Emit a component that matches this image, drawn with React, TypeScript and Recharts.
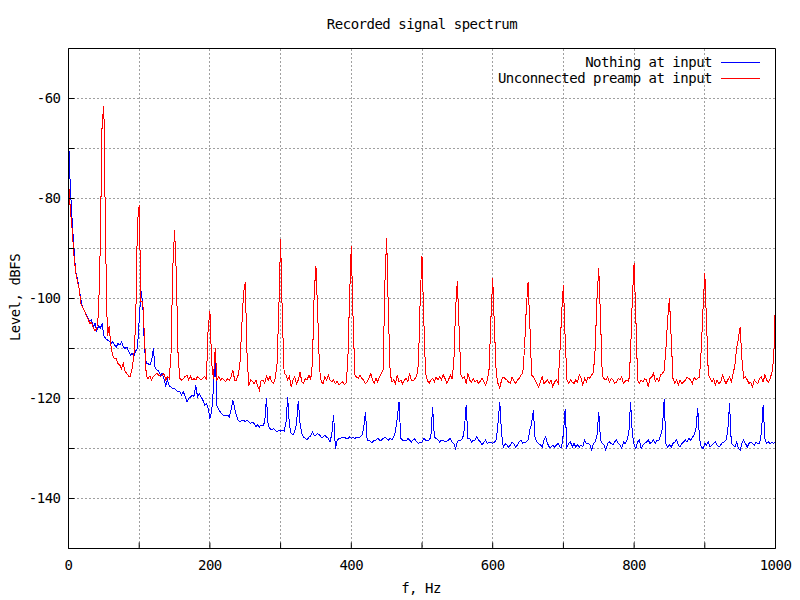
import { LineChart, Line, XAxis, YAxis, CartesianGrid } from "recharts"

// spectrum bins, 2.5 Hz apart, 0..1000 Hz
const BIN_HZ = 2.5

const freqTicks = [0, 100, 200, 300, 400, 500, 600, 700, 800, 900, 1000]
const freqLabels = [0, 200, 400, 600, 800, 1000]
const levelTicks = [-150, -140, -130, -120, -110, -100, -90, -80, -70, -60, -50]
const levelLabels = [-140, -120, -100, -80, -60]

const seriesNames = ["Nothing at input", "Unconnected preamp at input"]

// "Nothing at input", one row per 50 Hz
const nothingLevel = [
  -67.5, -77.5, -84, -89.5, -94.5, -96, -98, -100.3, -101.8, -102.5, -103.2, -104, -104.6, -104.2, -105.7, -105, -106.5, -105.5, -106, -105,
  -107.5, -108, -108.3, -108.5, -109, -108.7, -109.3, -109.7, -109, -109.3, -108.7, -109.7, -110, -109.7, -110.5, -111.3, -111, -111.5, -110.5, -110,
  -104.3, -98.5, -101, -110, -113, -113, -113.3, -112.5, -110, -114, -114.3, -114.5, -115.3, -115, -116, -117.5, -116.3, -117.5, -117.7, -118,
  -118, -118.3, -118.7, -118.6, -119.3, -118.7, -119.6, -120.7, -120, -119.7, -119.3, -119.6, -117.3, -119.7, -119, -119.7, -120.3, -121.3, -121, -122,
  -124, -122.7, -118, -111, -121.5, -122.3, -122.7, -123.2, -123.5, -123.3, -123.3, -123.7, -122.3, -120.3, -122, -123.5, -124.3, -124.7, -124.3, -124.3,
  -124.7, -124.3, -124.7, -125, -124.7, -125, -125.7, -125.3, -125.7, -125.3, -125.5, -124.7, -120, -125.5, -126, -126.3, -126, -126.3, -126.7, -126.3,
  -126.5, -126.3, -126.5, -125, -119.7, -125.5, -127, -127.3, -126.5, -125, -120.5, -125, -127, -127.7, -128, -128.3, -127.7, -127.5, -126.7, -127.3,
  -127.3, -127, -127.3, -127.7, -127.7, -127.3, -127.7, -128, -128.7, -127, -123.3, -130, -128.3, -128, -128, -127.7, -127.7, -128, -128, -127.7,
  -128, -127.7, -128, -127.7, -127.7, -127.7, -127.3, -126, -122.7, -128.5, -128.3, -128.7, -128.7, -128.3, -128.3, -128, -128.3, -128.3, -128, -127.7,
  -128, -128.3, -128, -128.3, -127.7, -126.5, -124, -120.7, -128, -128.3, -128.3, -128.5, -128, -128.3, -128.7, -128.3, -128, -128.7, -129, -128.7,
  -128.7, -128, -128.3, -128.5, -128.3, -127.7, -121.7, -127.7, -128, -128.3, -128.7, -128.3, -128.3, -128.7, -128.5, -128.3, -128, -128.7, -129, -130,
  -128.7, -128.3, -128.3, -128, -126, -121.3, -128, -128, -128.7, -128.3, -128.3, -127.7, -128.3, -128.7, -129.3, -128.7, -128.3, -129, -128.7, -128.7,
  -129, -128.7, -128.3, -125, -120.7, -127, -129.7, -129, -129.3, -129.7, -129.3, -128.7, -129, -129.7, -129.3, -128.7, -128.3, -129, -128.7, -128.7,
  -128.3, -126.3, -125, -122.3, -128, -128.7, -129, -129.3, -129.7, -128.3, -127.7, -129, -129.7, -129.7, -129.3, -129.7, -129.3, -129, -129.7, -129.7,
  -127, -122.2, -129.7, -129, -128.7, -129.7, -129, -129.7, -129.3, -129.7, -129.3, -129.7, -128.3, -129, -129, -129.3, -130.3, -129, -128.7, -127.5,
  -122.7, -128.3, -129, -129.3, -130.3, -129, -128.7, -129, -129.3, -128.7, -128.3, -129, -129.3, -130, -128.7, -129, -128.3, -127, -120.7, -127,
  -129.3, -130, -128.7, -128.3, -130, -129.3, -129, -128.7, -128.3, -129, -128.7, -128.3, -129, -128.3, -128.3, -127.5, -126, -120.2, -129, -129.7,
  -129.3, -129.7, -129, -128.7, -128.3, -129.3, -129.7, -129, -128.7, -128.3, -128.7, -128, -128.3, -127.7, -127.3, -126, -122, -128, -129.7, -130,
  -129, -129.3, -128.7, -129.7, -129.3, -129, -128.7, -129.3, -129.7, -129.3, -128.7, -128.7, -128.3, -126.5, -121, -129, -129.3, -129.7, -128.7, -130,
  -130.3, -129, -128.3, -129, -129.7, -129, -128.7, -129, -129.3, -128.7, -129, -129, -127, -121.3, -128, -129, -128.7, -129, -128.7, -129,
  -128.5,
]

// "Unconnected preamp at input", one row per 50 Hz
const preampLevel = [
  -76.5, -82, -86, -91, -94.5, -96.5, -98, -101, -101.8, -102.5, -103.3, -104, -105, -104.8, -105.8, -106.5, -106, -103, -89, -65,
  -61.5, -89, -107.5, -105.5, -109.5, -111.3, -112, -112, -113, -113.3, -114, -113, -114.5, -115, -115.5, -115.5, -114, -111.3, -105, -85,
  -81.3, -100.5, -100.5, -108, -115.5, -116, -115.5, -116.3, -115.6, -115.3, -115, -115.3, -115.6, -115.3, -115, -116.3, -115.6, -116, -111, -94,
  -86.3, -95, -111.5, -116, -116.3, -116, -115.6, -115.3, -116.3, -115.6, -116.3, -116, -116.3, -115.6, -116, -116.3, -116, -115.6, -116.3, -106,
  -102.5, -113, -116, -110, -116.3, -115.6, -116.3, -116, -116.3, -116.6, -116, -116.3, -115.6, -114.3, -116.3, -116.3, -115.3, -113, -106, -99,
  -96.7, -111, -117.5, -116.3, -116.6, -117, -116.3, -117.5, -118.3, -116.3, -116.3, -117, -115.6, -116.3, -115.6, -116.7, -117, -116, -113, -102,
  -88.1, -104, -115, -115.3, -116.3, -115.6, -117.7, -116.3, -115.6, -117, -116.3, -114.7, -116.7, -117, -116, -116.3, -115.3, -116.3, -113, -99,
  -93.5, -103, -114, -116.7, -117, -115.7, -116.3, -115.3, -116.3, -116.7, -116.3, -117, -116.6, -117.3, -117, -116.6, -117.2, -117, -113, -100,
  -89.5, -104, -115.3, -115.7, -116, -115.3, -116, -116.3, -117, -116.7, -116, -115, -116.3, -117, -116, -116.7, -115.6, -115, -114.3, -97,
  -88, -103, -115, -116.7, -116.3, -117, -115.3, -116.7, -116.3, -117, -116.3, -116, -116.7, -115, -116.3, -116.5, -116, -115.6, -113, -100,
  -91.5, -104, -115, -116.3, -117, -116.3, -116, -116.7, -115.7, -116.3, -115.7, -116.3, -115.3, -116, -117, -116.3, -115.3, -116, -113, -102,
  -96.5, -106, -115.3, -116, -115.7, -117, -115, -116.3, -116.7, -116, -116.7, -116.3, -117, -116.5, -116, -116.7, -117.3, -116.3, -114, -104,
  -96, -106, -115, -117, -118, -116.3, -115.7, -116, -116.3, -116.7, -117, -115.7, -116.5, -117, -116.3, -116, -115.3, -115, -110, -102,
  -96.7, -105, -115.3, -115.7, -116.3, -117, -117.7, -116.7, -115.7, -117, -116.7, -116.3, -117, -116.3, -117.7, -116.7, -116.3, -117, -111, -103,
  -97.3, -108, -116.3, -117, -116.3, -116.7, -117, -116.3, -116.7, -115.3, -116, -117.3, -116, -116.7, -115.7, -116, -115.3, -114.7, -110, -100,
  -94, -104, -115.5, -116, -116.3, -115.7, -116.7, -116, -116.3, -117, -116.7, -116, -116.3, -115.7, -117, -116.5, -116.3, -116.7, -111, -100,
  -93, -104, -116.3, -117, -116.3, -116.7, -116, -116.3, -117.7, -116, -115.7, -115, -116.5, -116, -116.7, -115.3, -115, -114.5, -110, -104,
  -100, -108, -116, -117, -116.3, -117.3, -116.3, -117, -116.7, -116.3, -115.7, -116, -116.3, -117, -115.7, -116.3, -116, -115.7, -110, -102,
  -95, -105, -115.3, -116, -116.7, -116, -117.3, -116.3, -117, -116.7, -115.3, -116.3, -117, -116.3, -115.7, -116.7, -115, -113.5, -110, -108,
  -105.7, -112, -116, -115.7, -116.3, -117, -116.7, -117.7, -116.3, -116.7, -117, -116, -115.7, -116.7, -115.3, -116.3, -116.7, -116, -114.7, -112,
  -100,
]

const data = preampLevel.map((v, i) => ({ f: i * BIN_HZ, nothing: nothingLevel[i], preamp: v }))

const FONT = "'DejaVu Sans Mono', monospace"
const textStyle = { fontFamily: FONT, fontSize: 14, letterSpacing: -0.5, fill: "#000" }

function FreqTick({ x, y, payload }: any) {
  if (!freqLabels.includes(payload.value)) return <g />
  return <text x={x} y={y} textAnchor="middle" {...textStyle}>{payload.value}</text>
}

function LevelTick({ x, y, payload }: any) {
  if (!levelLabels.includes(payload.value)) return <g />
  return <text x={x} y={y + 4.7} textAnchor="end" {...textStyle}>{payload.value}</text>
}

export default function App() {
  return (
    <div style={{ position: "absolute", left: 0, top: 0, width: 800, height: 600, background: "#fff" }}>
      <LineChart width={800} height={600} data={data} margin={{ top: 47.5, right: 23.5, bottom: 50.5, left: 67.5 }}>
        <CartesianGrid stroke="#a0a0a0" strokeDasharray="2 2" shapeRendering="crispEdges" />
        <XAxis dataKey="f" type="number" domain={[0, 1000]} ticks={freqTicks} interval={0} allowDataOverflow
          height={1} tickSize={-6} tickMargin={27} tick={FreqTick}
          axisLine={{ stroke: "#000" }} tickLine={{ stroke: "#000" }} />
        <XAxis xAxisId="top" orientation="top" dataKey="f" type="number" domain={[0, 1000]} ticks={freqTicks} interval={0} allowDataOverflow
          height={1} tickSize={-6} tick={false}
          axisLine={{ stroke: "#000" }} tickLine={{ stroke: "#000" }} />
        <YAxis type="number" domain={[-150, -50]} ticks={levelTicks} interval={0} allowDataOverflow
          width={1} tickSize={-6} tickMargin={14} tick={LevelTick}
          axisLine={{ stroke: "#000" }} tickLine={{ stroke: "#000" }} />
        <YAxis yAxisId="right" orientation="right" type="number" domain={[-150, -50]} ticks={levelTicks} interval={0} allowDataOverflow
          width={1} tickSize={-6} tick={false}
          axisLine={{ stroke: "#000" }} tickLine={{ stroke: "#000" }} />
        <Line type="linear" dataKey="nothing" name={seriesNames[0]} stroke="#0000ff" strokeWidth={1}
          dot={false} activeDot={false} isAnimationActive={false} shapeRendering="crispEdges" />
        <Line type="linear" dataKey="preamp" name={seriesNames[1]} stroke="#ff0000" strokeWidth={1}
          dot={false} activeDot={false} isAnimationActive={false} shapeRendering="crispEdges" />
      </LineChart>
      <svg width={800} height={600} style={{ position: "absolute", left: 0, top: 0, pointerEvents: "none" }}>
        <text x={422} y={29.3} textAnchor="middle" {...textStyle}>Recorded signal spectrum</text>
        <text x={421} y={592.5} textAnchor="middle" {...textStyle}>f, Hz</text>
        <text transform="translate(20,297.5) rotate(-90)" textAnchor="middle" {...textStyle}>Level, dBFS</text>
        <text x={712} y={67.3} textAnchor="end" {...textStyle}>{seriesNames[0]}</text>
        <line x1={721} x2={760} y1={62.5} y2={62.5} stroke="#0000ff" />
        <text x={712} y={83.3} textAnchor="end" {...textStyle}>{seriesNames[1]}</text>
        <line x1={721} x2={760} y1={78.5} y2={78.5} stroke="#ff0000" />
      </svg>
    </div>
  )
}
